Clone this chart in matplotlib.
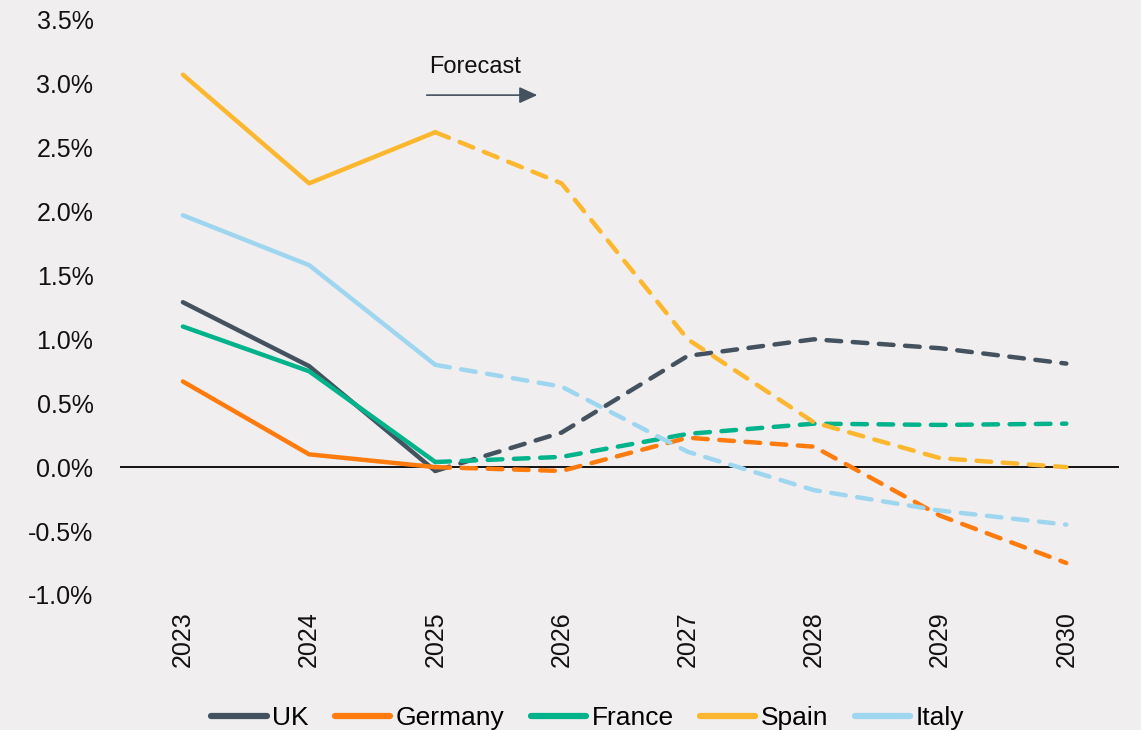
import numpy as np
import matplotlib.pyplot as plt
from matplotlib.lines import Line2D

years = ['2023', '2024', '2025', '2026', '2027', '2028', '2029', '2030']
uk = [1.29, 0.79, -0.03, 0.27, 0.87, 1.00, 0.93, 0.81]
germany = [0.67, 0.10, 0.00, -0.03, 0.23, 0.16, -0.38, -0.75]
france = [1.10, 0.75, 0.04, 0.08, 0.26, 0.34, 0.33, 0.34]
spain = [3.07, 2.22, 2.62, 2.22, 1.00, 0.35, 0.07, 0.00]
italy = [1.97, 1.58, 0.80, 0.63, 0.12, -0.18, -0.34, -0.45]

names = ['UK', 'Germany', 'France', 'Spain', 'Italy']
series = [uk, germany, france, spain, italy]
colors = ['#44515e', '#ff7b0d', '#00b38a', '#fdb72f', '#9fd6ef']
last_actual = 2  # 2025 is where forecast starts

bg = '#f0eeef'
plt.rcParams['font.family'] = ['Liberation Sans', 'DejaVu Sans']

fig = plt.figure(figsize=(11.41, 7.30), dpi=100, facecolor=bg)
ax = fig.add_axes([0.105, 0.185, 0.876, 0.788])
ax.set_facecolor(bg)

x = np.arange(len(years))
ax.axhline(0, color='black', lw=1.3, zorder=1)

handles = []
for name, vals, c in zip(names, series, colors):
    vals = np.array(vals)
    ax.plot(x[:last_actual + 1], vals[:last_actual + 1], color=c, lw=3.2,
            solid_capstyle='round', solid_joinstyle='round', zorder=3)
    ax.plot(x[last_actual:], vals[last_actual:], color=c, lw=3.2,
            dashes=(3.3, 2.6), dash_capstyle='round', zorder=3)
    handles.append(Line2D([0], [0], color=c, lw=4.5, solid_capstyle='round'))

# forecast marker
ax.text(1.95, 3.13, 'Forecast', fontsize=17, color='#111111', va='center', ha='left')
ax.annotate('', xy=(2.83, 2.91), xytext=(1.91, 2.91),
            arrowprops=dict(arrowstyle='-|>,head_length=1.1,head_width=0.5',
                            color='#44515e', lw=1.2))

ax.set_xlim(-0.5, 7.42)
ax.set_ylim(-1.0, 3.5)
ax.set_yticks(np.arange(-1.0, 3.51, 0.5))
ax.set_yticklabels([f'{v:.1f}%' for v in np.arange(-1.0, 3.51, 0.5)])
ax.set_xticks(x)
ax.set_xticklabels(years, rotation=90)
ax.tick_params(axis='both', length=0, labelsize=18, colors='#111111')
ax.tick_params(axis='y', pad=19)
ax.tick_params(axis='x', pad=12)
for s in ax.spines.values():
    s.set_visible(False)

fig.legend(handles, names, loc='lower center', bbox_to_anchor=(0.515, -0.033),
           ncol=5, frameon=False, handlelength=2.1,
           handletextpad=0.2, columnspacing=1.0,
           prop={'family': ['Liberation Sans Narrow', 'Liberation Sans'], 'size': 19})

fig.savefig('out.png', dpi=100, facecolor=bg)
